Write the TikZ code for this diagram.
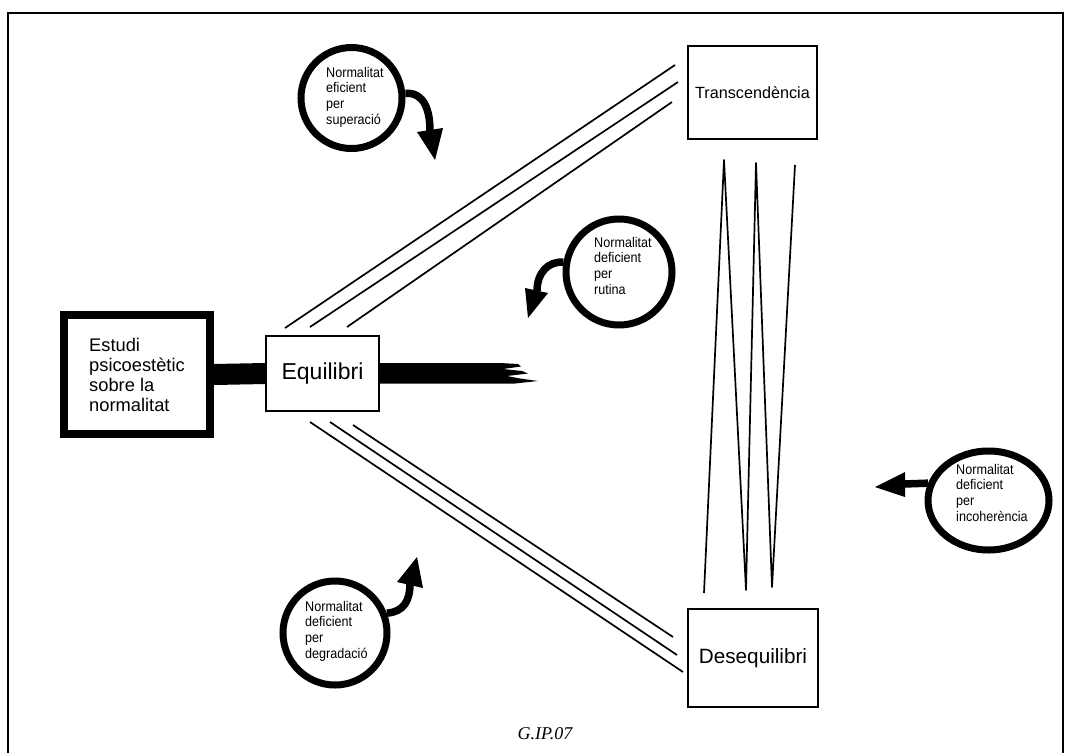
\documentclass[tikz,border=0pt]{standalone}
\usepackage{fontspec}
\setmainfont{Liberation Serif}
\newfontfamily\hv{Liberation Sans}
\newfontfamily\hvn[FakeStretch=0.9]{Liberation Sans}
\usetikzlibrary{shapes.geometric}
\begin{document}
\begin{tikzpicture}[x=1pt,y=-1pt,
  box/.style={draw, line width=1.6pt, inner sep=0, fill=white},
  ring/.style={draw, line width=7pt, circle, inner sep=0},
  link/.style={line width=1.7pt},
  shaft/.style={line width=7.5pt},
  lbl/.style={font=\hvn\fontsize{14}{15.6}\selectfont, align=left, inner sep=0, anchor=north west},
]
\useasboundingbox (0,0) rectangle (1071,753);
% frame
\draw[line width=1.5pt] (8,753) -- (8,13) -- (1063,13) -- (1063,753);

% boxes
\node[box, line width=8pt, minimum width=146pt, minimum height=119pt,
      font=\hv\fontsize{18.3}{20}\selectfont, align=left] (est) at (137,374.5)
      {Estudi\\psicoestètic\\sobre la\\normalitat};
\node[box, minimum width=113pt, minimum height=75.5pt, font=\hv\fontsize{23}{24}\selectfont]
      (equ) at (322.5,373.5) {Equilibri};
\node[box, minimum width=129.5pt, minimum height=93.5pt, font=\hv\fontsize{16.2}{18}\selectfont]
      (tra) at (752.5,92.5) {Transcendència};
\node[box, minimum width=130pt, minimum height=98pt, font=\hv\fontsize{20.7}{22}\selectfont]
      (des) at (753,658) {Desequilibri};

% thick bars
\draw[line width=21pt] (est.east) -- (equ.west);
\fill (equ.east |- 0,363) -- (500,363) -- (518,364) -- (521,366.5) -- (503,369) -- (522,371)
      -- (528,373.5) -- (507,376) -- (520,378.5) -- (538,381) -- (515,383.5) -- (equ.east |- 0,383.5) -- cycle;

% connector end points
\coordinate (ut1) at (285,328); \coordinate (ut2) at (310,327); \coordinate (ut3) at (347,327);
\coordinate (uh1) at (675,65);  \coordinate (uh2) at (678,82);  \coordinate (uh3) at (672,102);
\coordinate (lt1) at (310,422); \coordinate (lt2) at (330,422); \coordinate (lt3) at (353,425);
\coordinate (lh1) at (683,672); \coordinate (lh2) at (677,655); \coordinate (lh3) at (673,637);
\coordinate (zb1) at (704,593); \coordinate (zt1) at (724,160);
\coordinate (zb2) at (746,590); \coordinate (zt2) at (756,163);
\coordinate (zb3) at (772,587); \coordinate (zt3) at (795,165);

\draw[link] (ut1) -- (uh1);
\draw[link] (ut2) -- (uh2);
\draw[link] (ut3) -- (uh3);
\draw[link] (lt1) -- (lh1);
\draw[link] (lt2) -- (lh2);
\draw[link] (lt3) -- (lh3);
\draw[link, line join=round] (zb1) -- (zt1) -- (zb2) -- (zt2) -- (zb3) -- (zt3);

% rings
\node[ring, minimum size=101pt] (sup) at (351.5,98) {};
\node[ring, minimum size=106pt] (rut) at (619,272) {};
\node[ring, minimum size=104pt] (deg) at (335,633) {};
\node[ring, ellipse, minimum width=121pt, minimum height=99pt] (inc) at (988.5,500.5) {};

\node[lbl] (tsup) at (326,67) {Normalitat\\eficient\\per\\superació};
\node[lbl] (trut) at (594,237) {Normalitat\\deficient\\per\\rutina};
\node[lbl] (tdeg) at (305,601) {Normalitat\\deficient\\per\\degradació};
\node[lbl] (tinc) at (956,464) {Normalitat\\deficient\\per\\incoherència};

% arrows
\coordinate (supa) at (417,132); \coordinate (supb) at (443,128); \coordinate (supt) at (435,160);
\draw[shaft] (sup.5) .. controls (424,92) and (430,110) .. (430,131);
\fill (supa) -- (supb) -- (supt) -- cycle;

\coordinate (ruta) at (525,288); \coordinate (rutb) at (548,293); \coordinate (rutt) at (528,318);
\draw[shaft] (rut.170) .. controls (548,261) and (537,273) .. (537,291);
\fill (ruta) -- (rutb) -- (rutt) -- cycle;

\coordinate (dega) at (397,582); \coordinate (degb) at (423,588); \coordinate (degt) at (417,557);
\draw[shaft] (deg.21) .. controls (404,612) and (410,600) .. (410,584);
\fill (dega) -- (degb) -- (degt) -- cycle;

\coordinate (inca) at (905,472); \coordinate (incb) at (905,497); \coordinate (inct) at (875,487);
\draw[shaft] (inc.164) -- (904,484);
\fill (inca) -- (incb) -- (inct) -- cycle;

% caption
\node[font=\itshape\fontsize{18}{20}\selectfont, inner sep=0] (cap) at (545,734) {G.IP.07};
\end{tikzpicture}
\end{document}
